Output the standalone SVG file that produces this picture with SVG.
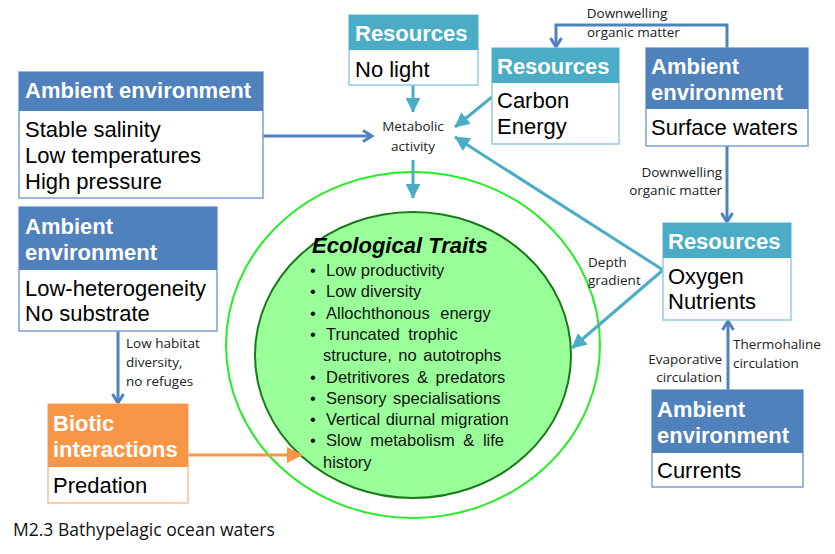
<svg xmlns="http://www.w3.org/2000/svg" width="835" height="554" viewBox="0 0 835 554">
<style>
.hd{font-family:"Liberation Sans",Arial,sans-serif;font-size:22px;font-weight:bold;fill:#fff}
.bd{font-family:"Liberation Sans",Arial,sans-serif;font-size:22px;fill:#000}
.lb{font-family:"Open Sans","Noto Sans",sans-serif;font-size:13.5px;fill:#222}
.tr{font-family:"Liberation Sans",Arial,sans-serif;font-size:16.5px;fill:#111}
.boxA{fill:#fff;stroke:#7f9fd2;stroke-width:1.5}
.boxR{fill:#fff;stroke:#92cddc;stroke-width:1.5}
.boxO{fill:#fff;stroke:#fac090;stroke-width:1.5}
.hA{fill:#4f81bd}
.hR{fill:#4bacc6}
.hO{fill:#f79646}
.cA{fill:none;stroke:#4f81bd;stroke-width:3}
.cR{fill:none;stroke:#4bacc6;stroke-width:3}
.cO{fill:none;stroke:#f79646;stroke-width:3}
</style>
<defs>
<marker id="triR" viewBox="0 0 10 10" refX="9.5" refY="5" markerWidth="15" markerHeight="15" markerUnits="userSpaceOnUse" orient="auto"><path d="M0,0 L10,5 L0,10 z" fill="#4bacc6"/></marker>
<marker id="triO" viewBox="0 0 10 10" refX="9.5" refY="5" markerWidth="16" markerHeight="16" markerUnits="userSpaceOnUse" orient="auto"><path d="M0,0 L10,5 L0,10 z" fill="#f79646"/></marker>
<marker id="vee" viewBox="0 0 14 14" refX="12" refY="7" markerWidth="14" markerHeight="14" markerUnits="userSpaceOnUse" orient="auto"><path d="M3,1.5 L12,7 L3,12.5" fill="none" stroke="#4f81bd" stroke-width="3"/></marker>
</defs>
<rect width="835" height="554" fill="#fff"/>

<g id="traits">
<ellipse cx="413" cy="345" rx="187" ry="173" fill="none" stroke="#22ee22" stroke-width="2"/>
<ellipse cx="413" cy="355" rx="158" ry="143" fill="#99ff99" stroke="#1a7a1a" stroke-width="2"/>
<text x="312" y="253" font-family="Liberation Sans,Arial,sans-serif" font-size="22" font-weight="bold" font-style="italic" fill="#000">Ecological Traits</text>
<g class="tr">
<text x="310" y="276">•</text><text x="326" y="276">Low productivity</text>
<text x="310" y="297">•</text><text x="326" y="297">Low diversity</text>
<text x="310" y="319">•</text><text x="326" y="319" word-spacing="6">Allochthonous energy</text>
<text x="310" y="340">•</text><text x="326" y="340" word-spacing="4">Truncated trophic</text>
<text x="323" y="361" word-spacing="2">structure, no autotrophs</text>
<text x="310" y="383">•</text><text x="326" y="383" word-spacing="3">Detritivores &amp; predators</text>
<text x="310" y="404">•</text><text x="326" y="404" word-spacing="2">Sensory specialisations</text>
<text x="310" y="425">•</text><text x="326" y="425" word-spacing="1">Vertical diurnal migration</text>
<text x="310" y="446">•</text><text x="326" y="446" word-spacing="4">Slow metabolism &amp; life</text>
<text x="323" y="468">history</text>
</g>
</g>

<g id="connectors">
<path class="cR" d="M413,85 L413,112" marker-end="url(#triR)"/>
<path class="cR" d="M413,160 L413,198" marker-end="url(#triR)"/>
<path class="cA" d="M263,136 L372,136" marker-end="url(#vee)"/>
<path class="cR" d="M492,97 L455,127" marker-end="url(#triR)"/>
<path class="cR" d="M663,270 L455,137" marker-end="url(#triR)"/>
<path class="cR" d="M663,270 L572,348" marker-end="url(#triR)"/>
<path class="cA" d="M727,48 L727,25 L556,25 L556,47" marker-end="url(#vee)"/>
<path class="cA" d="M727,146 L727,222" marker-end="url(#vee)"/>
<path class="cA" d="M728,390 L728,321" marker-end="url(#vee)"/>
<path class="cA" d="M118,331 L118,403" marker-end="url(#vee)"/>
<path class="cO" d="M188,455 L302,455" marker-end="url(#triO)"/>
<g class="lb">
<text x="413" y="131" text-anchor="middle">Metabolic</text>
<text x="413" y="151" text-anchor="middle">activity</text>
<text x="627" y="18" text-anchor="middle">Downwelling</text>
<text x="587" y="37">organic matter</text>
<text x="722" y="177" text-anchor="end">Downwelling</text>
<text x="722" y="195" text-anchor="end">organic matter</text>
<text x="588" y="267">Depth</text>
<text x="588" y="285">gradient</text>
<text x="733" y="349">Thermohaline</text>
<text x="733" y="368">circulation</text>
<text x="722" y="364" text-anchor="end">Evaporative</text>
<text x="722" y="382" text-anchor="end">circulation</text>
<text x="126" y="348">Low habitat</text>
<text x="126" y="367">diversity,</text>
<text x="126" y="386">no refuges</text>
</g>
</g>

<g id="amb-top-left">
<rect class="boxA" x="19" y="72" width="244" height="126"/>
<rect class="hA" x="19" y="72" width="244" height="39"/>
<text class="hd" x="25" y="98">Ambient environment</text>
<text class="bd" x="25" y="137">Stable salinity</text>
<text class="bd" x="25" y="163">Low temperatures</text>
<text class="bd" x="25" y="189">High pressure</text>
</g>

<g id="res-nolight">
<rect class="boxR" x="349" y="15" width="129" height="70"/>
<rect class="hR" x="349" y="15" width="129" height="35"/>
<text class="hd" x="355" y="41">Resources</text>
<text class="bd" x="355" y="77">No light</text>
</g>

<g id="res-carbon">
<rect class="boxR" x="492" y="48" width="127" height="96"/>
<rect class="hR" x="492" y="48" width="127" height="35"/>
<text class="hd" x="497" y="74">Resources</text>
<text class="bd" x="497" y="108">Carbon</text>
<text class="bd" x="497" y="134">Energy</text>
</g>

<g id="amb-surface">
<rect class="boxA" x="646" y="48" width="162" height="98"/>
<rect class="hA" x="646" y="48" width="162" height="61"/>
<text class="hd" x="651" y="74">Ambient</text>
<text class="hd" x="651" y="100">environment</text>
<text class="bd" x="651" y="135">Surface waters</text>
</g>

<g id="res-oxygen">
<rect class="boxR" x="663" y="223" width="128" height="97"/>
<rect class="hR" x="663" y="223" width="128" height="35"/>
<text class="hd" x="668" y="249">Resources</text>
<text class="bd" x="668" y="284">Oxygen</text>
<text class="bd" x="668" y="309">Nutrients</text>
</g>

<g id="amb-hetero">
<rect class="boxA" x="19" y="207" width="198" height="124"/>
<rect class="hA" x="19" y="207" width="198" height="63"/>
<text class="hd" x="25" y="234">Ambient</text>
<text class="hd" x="25" y="260">environment</text>
<text class="bd" x="25" y="296">Low-heterogeneity</text>
<text class="bd" x="25" y="321">No substrate</text>
</g>

<g id="biotic">
<rect class="boxO" x="48" y="404" width="140" height="99"/>
<rect class="hO" x="48" y="404" width="140" height="63"/>
<text class="hd" x="53" y="431">Biotic</text>
<text class="hd" x="53" y="457">interactions</text>
<text class="bd" x="53" y="493">Predation</text>
</g>

<g id="amb-currents">
<rect class="boxA" x="652" y="390" width="151" height="97"/>
<rect class="hA" x="652" y="390" width="151" height="63"/>
<text class="hd" x="657" y="417">Ambient</text>
<text class="hd" x="657" y="443">environment</text>
<text class="bd" x="657" y="478">Currents</text>
</g>

<text x="13" y="536" font-family="Open Sans,Noto Sans,sans-serif" font-size="17.5" fill="#111">M2.3 Bathypelagic ocean waters</text>
</svg>
